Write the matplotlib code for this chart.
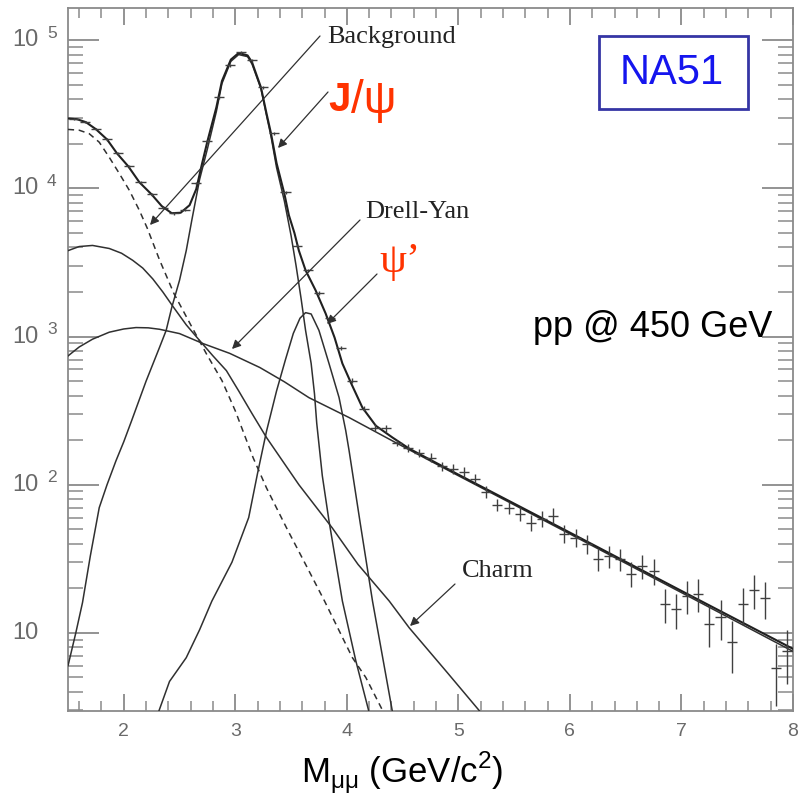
import math
import matplotlib
matplotlib.use("Agg")
import matplotlib.pyplot as plt
import matplotlib.transforms as mtransforms
from matplotlib.patches import Rectangle
from matplotlib.ticker import FixedLocator, NullFormatter

# ---------------- data ----------------
mass_bins = [1.55, 1.65, 1.75, 1.85, 1.95, 2.05, 2.15, 2.25, 2.35, 2.45,
             2.55, 2.65, 2.75, 2.85, 2.95, 3.05, 3.15, 3.25, 3.35, 3.45,
             3.55, 3.65, 3.75, 3.85, 3.95, 4.05, 4.15, 4.25, 4.35, 4.45,
             4.55, 4.65, 4.75, 4.85, 4.95, 5.05, 5.15, 5.25, 5.35, 5.45,
             5.55, 5.65, 5.75, 5.85, 5.95, 6.05, 6.15, 6.25, 6.35, 6.45,
             6.55, 6.65, 6.75, 6.85, 6.95, 7.05, 7.15, 7.25, 7.35, 7.45,
             7.55, 7.65, 7.75, 7.85, 7.95]
counts = [2.95e4, 2.8e4, 2.51e4, 2.14e4, 1.72e4, 1.41e4, 1.10e4, 9.1e3, 7.4e3, 6.8e3,
          7.2e3, 1.08e4, 2.08e4, 4.12e4, 6.78e4, 8.3e4, 7.3e4, 4.8e4, 2.35e4, 9.4e3,
          4.1e3, 2.8e3, 1.98e3, 1.34e3, 843, 505, 326, 243, 240, 192,
          177, 164, 152, 134, 128, 121, 110, 89.8, 73.3, 70,
          63.7, 55.4, 58.9, 61.8, 46.7, 43.9, 39.9, 31.6, 33.1, 31.6,
          25.1, 28.4, 26.2, 15.7, 14.5, 17.8, 18.4, 11.5, 12.8, 8.7,
          15.7, 19.5, 17.2, 5.8, 7.5]
rel_err = [0.02, 0.02, 0.02, 0.02, 0.02, 0.02, 0.02, 0.02, 0.02, 0.02,
           0.02, 0.02, 0.02, 0.02, 0.02, 0.02, 0.02, 0.02, 0.02, 0.02,
           0.02, 0.02, 0.03, 0.03, 0.03, 0.04, 0.04, 0.05, 0.05, 0.05,
           0.06, 0.06, 0.07, 0.07, 0.07, 0.08, 0.08, 0.09, 0.10, 0.10,
           0.11, 0.12, 0.12, 0.12, 0.14, 0.14, 0.15, 0.17, 0.17, 0.17,
           0.19, 0.19, 0.20, 0.26, 0.27, 0.25, 0.25, 0.30, 0.30, 0.38,
           0.28, 0.26, 0.28, 0.45, 0.40]
bin_half_width = 0.045

total_x = [1.49, 1.58, 1.66, 1.75, 1.85, 1.94, 2.04, 2.14, 2.25, 2.34, 2.43, 2.51, 2.59,
           2.65, 2.70, 2.75, 2.83, 2.88, 2.96, 3.03, 3.11, 3.15, 3.23, 3.28, 3.32,
           3.37, 3.44, 3.48, 3.53, 3.57, 3.63, 3.72, 3.81, 3.89, 3.96, 4.04, 4.14,
           4.26, 4.41, 4.56, 5.0, 6.0, 7.0, 8.0]
total_y = [2.97e4, 2.93e4, 2.8e4, 2.51e4, 2.14e4, 1.72e4, 1.41e4, 1.10e4, 9.1e3, 7.6e3, 6.8e3, 6.85e3, 7.7e3,
           9.9e3, 1.45e4, 2.08e4, 3.52e4, 5.3e4, 7.4e4, 8.2e4, 7.9e4, 7.1e4, 4.8e4, 3.2e4, 2.35e4,
           1.48e4, 9.2e3, 6.6e3, 5.0e3, 3.8e3, 2.8e3, 2.05e3, 1.43e3, 984, 658, 481, 331,
           250, 208, 175, 117, 47.5, 19.2, 7.8]

bkg_x = [1.5, 1.6, 1.69, 1.78, 1.87, 1.96, 2.05, 2.14, 2.21, 2.32, 2.45, 2.6, 2.74, 2.88,
         3.0, 3.16, 3.28, 3.46, 3.63, 3.80, 4.05, 4.17, 4.32, 4.4]
bkg_y = [2.5e4, 2.47e4, 2.34e4, 2.05e4, 1.62e4, 1.26e4, 9.7e3, 7.1e3, 5.4e3, 3.3e3, 1.95e3, 1.2e3, 767, 505,
         315, 152, 95, 51, 29, 16.4, 6.8, 5.0, 3.0, 2.3]

charm_x = [1.5, 1.6, 1.72, 1.87, 1.98, 2.08, 2.17, 2.26, 2.35, 2.44, 2.56, 2.68, 2.8, 2.92,
           3.03, 3.15, 3.28, 3.57, 3.87, 4.1, 4.38, 4.56, 4.9, 5.19, 5.25]
charm_y = [3.8e3, 4.05e3, 4.12e3, 3.93e3, 3.65e3, 3.27e3, 2.9e3, 2.45e3, 2.0e3, 1.6e3, 1.2e3, 940, 740, 589,
           430, 302, 208, 100, 51, 29, 16.4, 10.8, 5.4, 2.97, 2.5]

dy_x = [1.5, 1.6, 1.72, 1.87, 2.0, 2.11, 2.22, 2.32, 2.5, 2.71, 2.95, 3.22, 3.44, 3.66, 4.02, 4.44,
        5.0, 6.0, 7.0, 8.0]
dy_y = [740, 850, 960, 1070, 1125, 1150, 1145, 1120, 1047, 897, 770, 618, 495, 387, 284, 192,
        115, 46.5, 18.7, 7.5]

jpsi_x = [1.5, 1.57, 1.63, 1.7, 1.78, 1.85, 1.93, 2.0, 2.07, 2.2, 2.32, 2.38, 2.43, 2.5,
          2.56, 2.61, 2.68, 2.75, 2.83, 2.88, 2.96, 3.03, 3.11, 3.15, 3.23, 3.28, 3.32,
          3.37, 3.44, 3.5, 3.545, 3.59, 3.63, 3.68, 3.71, 3.73, 3.78, 3.84, 3.96, 4.08, 4.2, 4.25]
jpsi_y = [6, 10, 16, 33, 70, 100, 145, 195, 270, 500, 843, 1100, 1570, 2400,
          3800, 6100, 1.15e4, 1.85e4, 3.3e4, 5.1e4, 7.2e4, 8.0e4, 7.75e4, 6.9e4, 4.7e4, 3.1e4, 2.25e4,
          1.38e4, 8.2e3, 4.8e3, 3.0e3, 1.8e3, 1.1e3, 658, 410, 260, 115, 57, 16.4, 6.5, 2.9, 2.4]

psi2_x = [2.31, 2.41, 2.56, 2.68, 2.79, 2.97, 3.12, 3.2, 3.28, 3.37, 3.45, 3.52, 3.58, 3.63, 3.68,
          3.75, 3.84, 3.93, 3.99, 4.02, 4.12, 4.23, 4.41, 4.45]
psi2_y = [2.9, 4.7, 6.8, 10.5, 16.4, 30, 60, 120, 230, 430, 700, 1050, 1330, 1450, 1420,
          1100, 658, 388, 232, 170, 55, 16.4, 2.9, 2.4]

x_ticks = [2, 3, 4, 5, 6, 7, 8]
y_ticks = [10, 100, 1000, 10000, 100000]

# ---------------- figure ----------------
fig = plt.figure(figsize=(8, 8), dpi=100)
ax = fig.add_axes([68 / 800, 1 - 711 / 800, (793 - 68) / 800, (711 - 8) / 800])
ax.set_yscale("log")
ax.set_xlim(1.5, 8.0)
ax.set_ylim(2.97, 1.65e5)

line_col = "#303030"
ax.plot(total_x, total_y, color="#202020", lw=1.5, zorder=4)
ax.plot(bkg_x, bkg_y, color=line_col, lw=1.1, ls=(0, (4, 3)), zorder=3)
ax.plot(charm_x, charm_y, color=line_col, lw=1.1, zorder=3)
ax.plot(dy_x, dy_y, color=line_col, lw=1.1, zorder=3)
ax.plot(jpsi_x, jpsi_y, color=line_col, lw=1.1, zorder=3)
ax.plot(psi2_x, psi2_y, color=line_col, lw=1.1, zorder=3)

yerr = [c * e for c, e in zip(counts, rel_err)]
ax.errorbar(mass_bins, counts, xerr=bin_half_width, yerr=yerr, fmt="none",
            ecolor="#404040", elinewidth=1.0, capsize=0, zorder=5)

# ---------------- axes styling ----------------
frame_col = "#8a8a8a"
for s in ax.spines.values():
    s.set_color(frame_col)
    s.set_linewidth(1.3)

ax.xaxis.set_major_locator(FixedLocator(x_ticks))
ax.xaxis.set_minor_locator(FixedLocator([1.6 + 0.2 * i for i in range(33)]))
ax.yaxis.set_major_locator(FixedLocator(y_ticks))
ax.yaxis.set_minor_locator(FixedLocator([m * 10 ** k for k in range(0, 6) for m in range(2, 10)]))
ax.yaxis.set_major_formatter(NullFormatter())
ax.yaxis.set_minor_formatter(NullFormatter())

ax.tick_params(axis="y", which="major", direction="in", length=22, width=1.3, color=frame_col,
               left=True, right=True)
ax.tick_params(axis="y", which="minor", direction="in", length=11, width=1.1, color=frame_col,
               left=True, right=True)
ax.tick_params(axis="x", which="major", direction="in", length=12, width=1.3, color=frame_col,
               bottom=True, top=True, labelsize=14, labelcolor="#6a6a6a", pad=9)
ax.tick_params(axis="x", which="minor", direction="in", length=7, width=1.1, color=frame_col,
               bottom=True, top=True)
for lab in ax.get_xticklabels():
    lab.set_family("Liberation Sans")

# y tick labels (10, 10^2 ... 10^5), left aligned as in the original
lab_tr = mtransforms.blended_transform_factory(fig.transFigure, ax.transData)
for v in y_ticks:
    e = int(round(math.log10(v)))
    fig.text(12 / 800, v, "10", transform=lab_tr, family="Liberation Sans", fontsize=17,
             color="#6a6a6a", ha="left", va="center")
    if e > 1:
        sup_tr = mtransforms.offset_copy(lab_tr, fig=fig, x=0, y=7, units="dots")
        fig.text(47 / 800, v, str(e), transform=sup_tr, family="Liberation Sans", fontsize=12.5,
                 color="#6a6a6a", ha="left", va="center")

# ---------------- annotations ----------------
def px(xp, yp):
    inv = ax.transData.inverted()
    return tuple(inv.transform((xp, 800 - yp)))


arrow_kw = dict(arrowstyle="-|>", color="#303030", lw=0.9, mutation_scale=13, shrinkA=0, shrinkB=0)
serif = "Liberation Serif"

ax.annotate("", xy=px(150, 225), xytext=px(320, 36), arrowprops=arrow_kw, zorder=6)
fig.text(327 / 800, 1 - 37 / 800, "Background", family=serif, fontsize=19, color="#222", va="center")

ax.annotate("", xy=px(278, 148), xytext=px(328, 92), arrowprops=arrow_kw, zorder=6)
fig.text(328 / 800, 1 - 100 / 800, "J", family="Liberation Sans", weight="bold", fontsize=29,
         color="#ff3300", va="center")
fig.text(351 / 800, 1 - 101 / 800, "/\u03c8", family="Liberation Sans", fontsize=33,
         color="#ff3300", va="center")

ax.annotate("", xy=px(232, 349), xytext=px(360, 220), arrowprops=arrow_kw, zorder=6)
fig.text(365 / 800, 1 - 212 / 800, "Drell-Yan", family=serif, fontsize=19, color="#222", va="center")

ax.annotate("", xy=px(327, 324), xytext=px(377, 274), arrowprops=arrow_kw, zorder=6)
fig.text(379 / 800, 1 - 262 / 800, "\u03c8\u2019", family=serif, fontsize=31,
         color="#ff3300", va="center")

ax.annotate("", xy=px(410, 626), xytext=px(455, 584), arrowprops=arrow_kw, zorder=6)
fig.text(462 / 800, 1 - 571 / 800, "Charm", family=serif, fontsize=19, color="#222", va="center")

fig.patches.append(Rectangle((599 / 800, 1 - 109 / 800), 149 / 800, 73 / 800,
                             transform=fig.transFigure, fc="white", ec="#3535a5", lw=2))
fig.text(672 / 800, 1 - 73 / 800, "NA51", family="Liberation Sans", fontsize=30, color="#1515ee",
         ha="center", va="center")

fig.text(772 / 800, 1 - 328 / 800, "pp @ 450 GeV", family="Liberation Sans", fontsize=26,
         color="black", ha="right", va="center")

fig.text(402 / 800, 1 - 773 / 800, r"M$_{\mathregular{\mu\mu}}$ (GeV/c$^{\mathregular{2}}$)",
         family="Liberation Sans", fontsize=25, color="black", ha="center", va="center")

fig.savefig("out.png", dpi=100, facecolor="white")
